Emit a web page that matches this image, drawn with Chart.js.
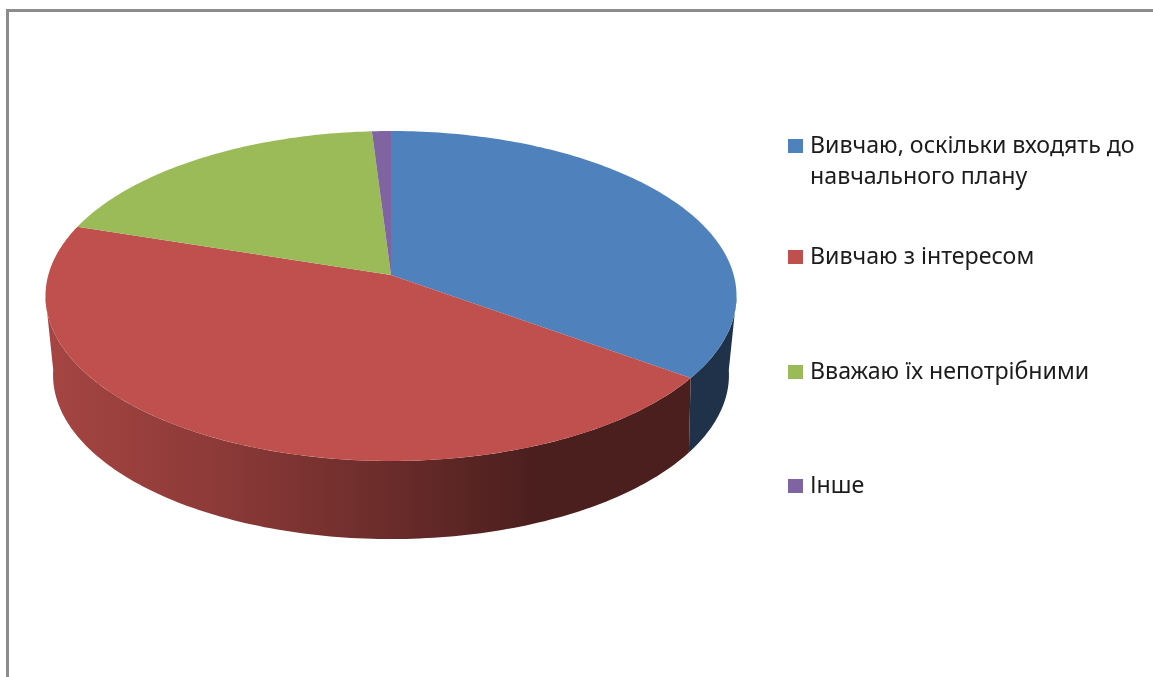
<!DOCTYPE html>
<html>
<head>
<meta charset="utf-8">
<title>Pie</title>
<script src="https://cdn.jsdelivr.net/npm/chart.js@4"></script>
<style>
  html, body { margin: 0; padding: 0; background: #fff; overflow: hidden; }
  #frame { position: absolute; left: 6px; top: 9px; width: 1147px; height: 668px; border-left: 3px solid #8c8c8c; border-top: 3px solid #8c8c8c; box-sizing: border-box; }
  #wrap { position: absolute; left: 0; top: 0; width: 1153px; height: 677px; }
</style>
</head>
<body>
<div id="frame"></div>
<div id="wrap"><canvas id="chart" width="1153" height="677"></canvas></div>
<script>
// chart data
const categories = [
  ['Вивчаю, оскільки входять до', 'навчального плану'],
  'Вивчаю з інтересом',
  'Вважаю їх непотрібними',
  'Інше'
]
const shares = [35, 45, 19, 1]
const sliceColors = ['#4f81bd', '#c0504d', '#9bbb59', '#8064a2']

// the disc seen in perspective: circle point (cos, sin) goes to screen through these
const topFace = { cx: 391, y0: 275, a: 342.7, b: 162.3, k: -0.1273 }
const bottomFace = { cx: 391, y0: 348.8, a: 333.6, b: 159.8, k: -0.16 }
// rim angle where the wall outline touches the top face, wall stops there
const edgeAngle = 0.13

function project(face, angle) {
  let w = 1 + face.k * Math.sin(angle)
  return [face.cx + face.a * Math.cos(angle) / w, face.y0 + face.b * Math.sin(angle) / w]
}

// points along the rim between two angles, about one per degree
function rim(face, from, to) {
  let pts = []
  let steps = Math.max(2, Math.ceil(Math.abs(to - from) / (Math.PI / 180)))
  for (let i = 0; i <= steps; i++) {
    pts.push(project(face, from + (to - from) * i / steps))
  }
  return pts
}

function shade(hex, f) {
  let n = parseInt(hex.slice(1), 16)
  return `rgb(${Math.round((n >> 16) * f)},${Math.round(((n >> 8) & 255) * f)},${Math.round((n & 255) * f)})`
}

// replaces the flat arcs with a 3D looking disc, angles come from the arc elements
const disc3d = {
  id: 'disc3d',
  beforeDatasetDraw(chart, args) {
    let ctx = chart.ctx
    let arcs = args.meta.data
    ctx.save()

    // side wall, only the front part of the rim shows
    arcs.forEach((arc, i) => {
      let from = Math.max(arc.startAngle, edgeAngle)
      let to = Math.min(arc.endAngle, Math.PI - edgeAngle)
      if (to <= from) return
      // darkens to the right and stays flat after about x=535
      let grad = ctx.createLinearGradient(50, 0, 535, 0)
      grad.addColorStop(0, shade(sliceColors[i], 0.86))
      grad.addColorStop(0.35, shade(sliceColors[i], 0.73))
      grad.addColorStop(0.7, shade(sliceColors[i], 0.55))
      grad.addColorStop(1, shade(sliceColors[i], 0.39))
      ctx.fillStyle = grad
      ctx.beginPath()
      rim(topFace, from, to).forEach(p => ctx.lineTo(p[0], p[1]))
      rim(bottomFace, to, from).forEach(p => ctx.lineTo(p[0], p[1]))
      ctx.closePath()
      ctx.fill()
    })

    // top face
    arcs.forEach((arc, i) => {
      ctx.fillStyle = sliceColors[i]
      ctx.beginPath()
      ctx.moveTo(topFace.cx, topFace.y0)
      rim(topFace, arc.startAngle, arc.endAngle).forEach(p => ctx.lineTo(p[0], p[1]))
      ctx.closePath()
      ctx.fill()
    })

    ctx.restore()
    return false
  }
}

// legend with the same uneven rows as the picture
const legendRows = {
  id: 'legendRows',
  afterDraw(chart) {
    let ctx = chart.ctx
    let baselines = [153, 264, 379, 493]
    ctx.save()
    ctx.font = '23.2px "Noto Sans"'
    ctx.textBaseline = 'alphabetic'
    chart.data.labels.forEach((label, i) => {
      let y = baselines[i]
      ctx.fillStyle = sliceColors[i]
      ctx.fillRect(788, y - 14, 15, 14)
      ctx.fillStyle = '#1c1c1c'
      let lines = Array.isArray(label) ? label : [label]
      lines.forEach((line, n) => ctx.fillText(line, 810, y + n * 31))
    })
    ctx.restore()
  }
}

new Chart(document.getElementById('chart'), {
  type: 'pie',
  data: {
    labels: categories,
    datasets: [{ data: shares, backgroundColor: sliceColors, borderWidth: 0 }]
  },
  options: {
    responsive: false,
    animation: false,
    plugins: { legend: { display: false }, tooltip: { enabled: false } }
  },
  plugins: [disc3d, legendRows]
})
</script>
</body>
</html>
